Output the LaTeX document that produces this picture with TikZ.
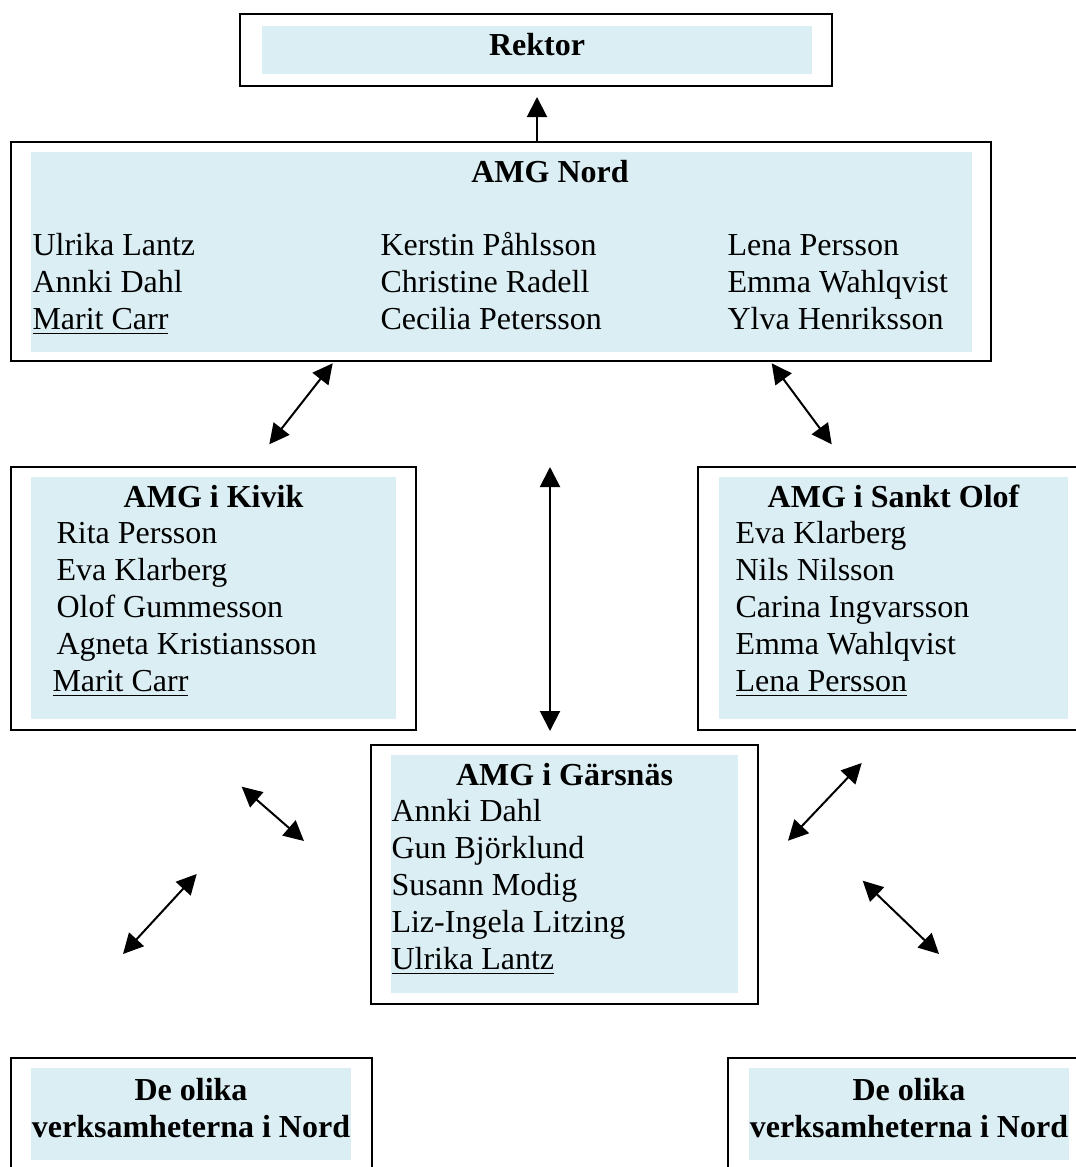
\documentclass[tikz,border=0pt]{standalone}
\usepackage{fontspec}
\setmainfont{Liberation Serif}
\usetikzlibrary{arrows.meta, fit}

\definecolor{panelblue}{RGB}{219,238,244}

\begin{document}
\begin{tikzpicture}[x=0.375pt, y=-0.375pt,
    boxline/.style={draw, line width=0.75pt, inner sep=0pt},
    panel/.style={fill=panelblue, inner sep=0pt},
    txt/.style={inner sep=0pt, anchor=base west, font=\fontsize{12}{14}\selectfont},
    head/.style={inner sep=0pt, anchor=base, font=\fontsize{12}{14}\selectfont\bfseries},
    dbl/.style={{Triangle[length=7.5pt,width=7.5pt]}-{Triangle[length=7.5pt,width=7.5pt]}, line width=0.75pt},
    sgl/.style={-{Triangle[length=7.5pt,width=7.5pt]}, line width=0.75pt}]
    \useasboundingbox (0,0) rectangle (1076,1167);

    % Rektor
    \node[boxline, fit={(240,14) (832,86)}] (rektor) {};
    \node[panel, fit={(262,26) (812,74)}] (rektorpanel) {};
    \node[head] (rektortitle) at (537,55) {Rektor};

    % AMG Nord
    \node[boxline, fit={(11,142) (991,361)}] (nord) {};
    \node[panel, fit={(31,152) (972,352)}] (nordpanel) {};
    \node[head] (nordtitle) at (550,182) {AMG Nord};
    \foreach \nm [count=\i] in {Ulrika Lantz, Annki Dahl, {\underline{Marit Carr}}}
        \node[txt] (nordA\i) at (32,{255+37*(\i-1)}) {\nm};
    \foreach \nm [count=\i] in {Kerstin Påhlsson, Christine Radell, Cecilia Petersson}
        \node[txt] (nordB\i) at (380,{255+37*(\i-1)}) {\nm};
    \foreach \nm [count=\i] in {Lena Persson, Emma Wahlqvist, Ylva Henriksson}
        \node[txt] (nordC\i) at (727,{255+37*(\i-1)}) {\nm};

    % AMG i Kivik
    \node[boxline, fit={(11,467) (416,730)}] (kivik) {};
    \node[panel, fit={(31,477) (396,719)}] (kivikpanel) {};
    \node[head] (kiviktitle) at (213.5,507) {AMG i Kivik};
    \foreach \nm [count=\i] in {Rita Persson, Eva Klarberg, Olof Gummesson, Agneta Kristiansson}
        \node[txt] (kivik\i) at (56,{543+37*(\i-1)}) {\nm};
    \node[txt] (kivik5) at (52,691) {\underline{Marit Carr}};

    % AMG i Sankt Olof
    \node[boxline, fit={(698,467) (1090,730)}] (olof) {};
    \node[panel, fit={(719,477) (1068,719)}] (olofpanel) {};
    \node[head] (oloftitle) at (893.5,507) {AMG i Sankt Olof};
    \foreach \nm [count=\i] in {Eva Klarberg, Nils Nilsson, Carina Ingvarsson, Emma Wahlqvist, {\underline{Lena Persson}}}
        \node[txt] (olof\i) at (735,{543+37*(\i-1)}) {\nm};

    % AMG i Gärsnäs
    \node[boxline, fit={(371,745) (758,1004)}] (gars) {};
    \node[panel, fit={(391,755) (738,993)}] (garspanel) {};
    \node[head] (garstitle) at (564.5,785) {AMG i Gärsnäs};
    \foreach \nm [count=\i] in {Annki Dahl, Gun Björklund, Susann Modig, Liz-Ingela Litzing, {\underline{Ulrika Lantz}}}
        \node[txt] (gars\i) at (391,{821+37*(\i-1)}) {\nm};

    % verksamheterna
    \node[boxline, fit={(11,1058) (372,1190)}] (verkL) {};
    \node[panel, fit={(31,1068) (351,1160)}] (verkLpanel) {};
    \node[head] (verkL1) at (191,1100) {De olika};
    \node[head] (verkL2) at (191,1137) {verksamheterna i Nord};
    \node[boxline, fit={(728,1058) (1090,1190)}] (verkR) {};
    \node[panel, fit={(749,1068) (1069,1160)}] (verkRpanel) {};
    \node[head] (verkR1) at (909,1100) {De olika};
    \node[head] (verkR2) at (909,1137) {verksamheterna i Nord};

    % arrow ends
    \coordinate (rektortip) at (537,97);
    \coordinate (nordL) at (332.7,363.3);
    \coordinate (kivikU) at (269.3,444.3);
    \coordinate (nordR) at (771.7,363.3);
    \coordinate (olofU) at (831.7,444.3);
    \coordinate (midU) at (550,467);
    \coordinate (midD) at (550,731);
    \coordinate (kivikD) at (241.7,786.7);
    \coordinate (garsL) at (304,841);
    \coordinate (verkLU) at (196.7,874);
    \coordinate (verkLD) at (123,954);
    \coordinate (olofD) at (861.7,763);
    \coordinate (garsR) at (788,840.7);
    \coordinate (verkRU) at (862.7,880.7);
    \coordinate (verkRD) at (939,954);

    \draw[sgl] (rektortip |- nord.north) -- (rektortip);
    \draw[dbl] (nordL) -- (kivikU);
    \draw[dbl] (nordR) -- (olofU);
    \draw[dbl] (midU) -- (midD);
    \draw[dbl] (kivikD) -- (garsL);
    \draw[dbl] (verkLU) -- (verkLD);
    \draw[dbl] (olofD) -- (garsR);
    \draw[dbl] (verkRU) -- (verkRD);
\end{tikzpicture}
\end{document}
